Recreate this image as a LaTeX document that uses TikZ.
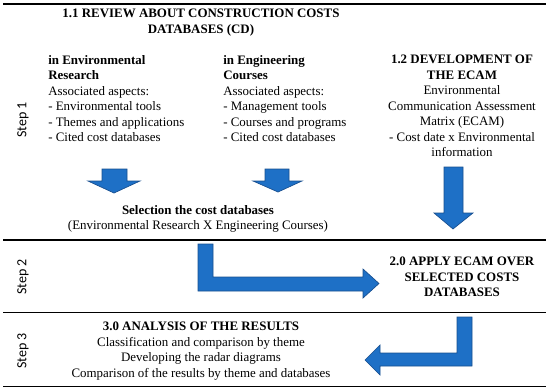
\documentclass[tikz,border=0pt]{standalone}
\usepackage{fontspec}
\setmainfont{Liberation Serif}
\newfontfamily\steplabelfont{Carlito}
\definecolor{arrowblue}{RGB}{30,112,198}
\definecolor{arrowedge}{RGB}{24,78,142}
\tikzset{
  body/.style={inner sep=0pt,font=\fontsize{9.7}{11.6}\selectfont},
  steplabel/.style={inner sep=0pt,rotate=90,font=\steplabelfont\fontsize{10.5}{12}\selectfont},
  blockarrow/.style={fill=arrowblue,draw=arrowedge,line width=0.5pt,line join=miter},
  rule/.style={line width=1pt}
}
\begin{document}
\begin{tikzpicture}[x=0.75pt,y=-0.75pt]
\useasboundingbox (0,0) rectangle (550,390);
% separating rules
\draw[rule] (3,4) -- (546,4);
\draw[rule] (3,240) -- (546,240);
\draw[rule] (3,312.5) -- (546,312.5);
\draw[rule] (3,386.5) -- (546,386.5);
% step labels
\node[steplabel] (stepone) at (23,120) {Step 1};
\node[steplabel] (steptwo) at (23,277) {Step 2};
\node[steplabel] (stepthree) at (23,351) {Step 3};
% step 1
\node[body,anchor=north,align=center] (review) at (201,9)
  {\textbf{1.1 REVIEW ABOUT CONSTRUCTION COSTS}\\\textbf{DATABASES (CD)}};
\node[body,anchor=north west,align=left] (envcol) at (48,55)
  {\textbf{in Environmental}\\\textbf{Research}\\Associated aspects:\\- Environmental tools\\- Themes and applications\\- Cited cost databases};
\node[body,anchor=north west,align=left] (engcol) at (223,55)
  {\textbf{in Engineering}\\\textbf{Courses}\\Associated aspects:\\- Management tools\\- Courses and programs\\- Cited cost databases};
\node[body,anchor=north,align=center] (ecam) at (462,55)
  {\textbf{1.2 DEVELOPMENT OF}\\\textbf{THE ECAM}\\Environmental\\Communication Assessment\\Matrix (ECAM)\\- Cost date x Environmental\\information};
\draw[blockarrow] (102,169) -- (127,169) -- (127,181) -- (140,181) -- (114,193)
  -- (88,181) -- (102,181) -- cycle;
\draw[blockarrow] (265,169) -- (289,169) -- (289,181) -- (302,181) -- (278,192)
  -- (253,181) -- (265,181) -- cycle;
\draw[blockarrow] (444,167) -- (463,167) -- (463,213) -- (473,213) -- (453,229)
  -- (434,213) -- (444,213) -- cycle;
\node[body,anchor=north,align=center] (selection) at (198,205)
  {\textbf{Selection the cost databases}\\(Environmental Research X Engineering Courses)};
% step 2
\draw[blockarrow] (198,244) -- (213,244) -- (213,277) -- (363,277) -- (363,269)
  -- (379,283.5) -- (363,298) -- (363,291) -- (198,291) -- cycle;
\node[body,anchor=north,align=center] (apply) at (462,257)
  {\textbf{2.0 APPLY ECAM OVER}\\\textbf{SELECTED COSTS}\\\textbf{DATABASES}};
% step 3
\draw[blockarrow] (457,317) -- (472,317) -- (472,366) -- (380,366) -- (380,375)
  -- (365,360) -- (380,345) -- (380,353) -- (457,353) -- cycle;
\node[body,anchor=north,align=center] (analysis) at (201,322)
  {\textbf{3.0 ANALYSIS OF THE RESULTS}\\Classification and comparison by theme\\Developing the radar diagrams\\Comparison of the results by theme and databases};
\end{tikzpicture}
\end{document}
